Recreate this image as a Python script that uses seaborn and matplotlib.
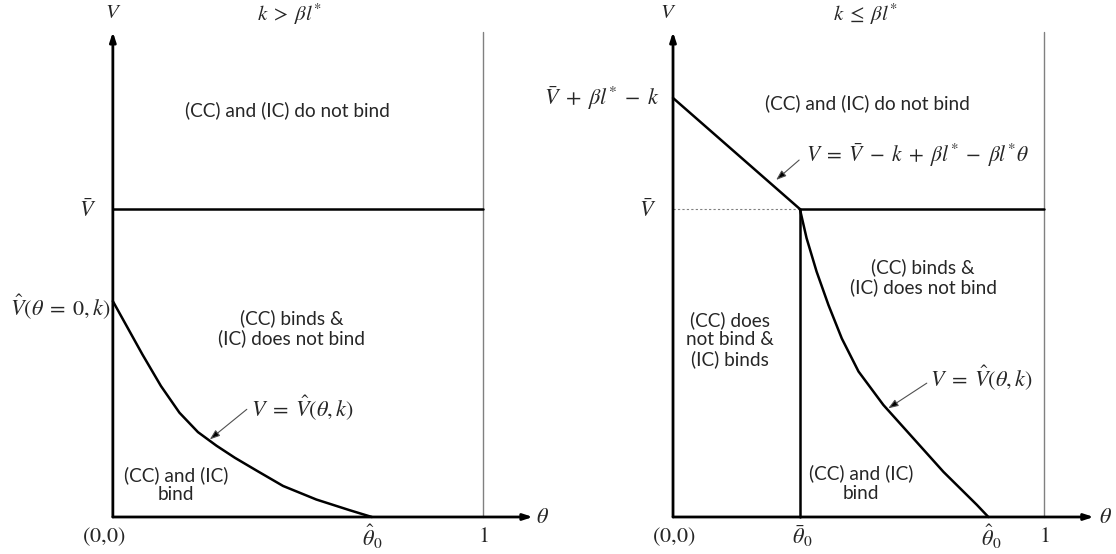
import matplotlib
matplotlib.use("Agg")
import matplotlib.pyplot as plt
import seaborn as sns

sns.set_style("white")
plt.rcParams["font.family"] = ["Lato", "DejaVu Sans"]
plt.rcParams["mathtext.fontset"] = "stix"
plt.rcParams["lines.solid_joinstyle"] = "round"

# ---- values (theta on the horizontal axis, V on the vertical axis) ----
V_BAR = 0.635

# Panel k > beta l*: boundary V = V_hat(theta, k)
left_theta = [0.0, 0.04, 0.08, 0.13, 0.18, 0.23, 0.28, 0.33, 0.39, 0.46, 0.55, 0.64, 0.70]
left_V = [0.445, 0.39, 0.335, 0.27, 0.215, 0.175, 0.147, 0.122, 0.095, 0.064, 0.036, 0.014, 0.0]
left_theta_hat0 = 0.70

# Panel k <= beta l*: straight segment and V_hat boundary
right_line_theta = [0.0, 0.342]
right_line_V = [0.864, V_BAR]
right_theta = [0.342, 0.360, 0.387, 0.419, 0.455, 0.500, 0.567, 0.648, 0.729, 0.819, 0.850]
right_V = [V_BAR, 0.575, 0.506, 0.437, 0.368, 0.300, 0.231, 0.162, 0.093, 0.025, 0.0]
right_theta_bar0 = 0.342
right_theta_hat0 = 0.85

LINE_W = 1.8
TXT = 13.7
MATH = 16
TICK = 16

fig = plt.figure(figsize=(11.16, 5.54), dpi=100)
ax1 = fig.add_axes([0, 0, 0.5, 1])
ax2 = fig.add_axes([0.5, 0, 0.5, 1])
ax1.set_xlim(-0.305, 1.203)
ax2.set_xlim(-0.31, 1.194)
for ax in (ax1, ax2):
    ax.set_ylim(-0.0763, 1.066)
    ax.axis("off")


def draw_axes(ax, x_tip):
    arrow = dict(arrowstyle="-|>,head_length=0.55,head_width=0.18",
                 lw=2.0, color="black", shrinkA=0, shrinkB=0)
    ax.annotate("", xy=(0, 1.0), xytext=(0, 0), arrowprops=arrow)
    ax.annotate("", xy=(x_tip, 0), xytext=(0, 0), arrowprops=arrow)
    ax.plot([1, 1], [0, 1.0], color="#808080", lw=1.0)


def pointer(ax, start, end):
    ax.annotate("", xy=end, xytext=start,
                arrowprops=dict(arrowstyle="-|>,head_length=0.6,head_width=0.22",
                                lw=0.8, color="#505050", fc="black",
                                shrinkA=0, shrinkB=0))


V_HAT_EQ = r"$V\;=\;\hat{V}(\theta,k)$"

# ---------------- left panel ----------------
draw_axes(ax1, 1.135)
ax1.plot([0, 1], [V_BAR, V_BAR], color="black", lw=LINE_W)
sns.lineplot(x=left_theta, y=left_V, ax=ax1, color="black", lw=LINE_W,
             sort=False, estimator=None)

ax1.text(0, 1.041, r"$V$", fontsize=MATH - 1, ha="center", va="center")
ax1.text(0.478, 1.037, r"$k\;>\;\beta l^{*}$", fontsize=MATH - 1, ha="center", va="center")
ax1.text(0.473, 0.839, "(CC) and (IC) do not bind", fontsize=TXT, ha="center", va="center")
ax1.text(-0.045, V_BAR, r"$\bar{V}$", fontsize=MATH, ha="right", va="center")
ax1.text(-0.006, left_V[0] - 0.012, r"$\hat{V}(\theta\;=\;0,k)$", fontsize=MATH,
         ha="right", va="center")
ax1.text(0.484, 0.39, "(CC) binds &\n(IC) does not bind", fontsize=TXT,
         ha="center", va="center", linespacing=1.15)
ax1.text(0.374, 0.225, V_HAT_EQ, fontsize=MATH, ha="left", va="center")
pointer(ax1, (0.362, 0.222), (0.262, 0.160))
ax1.text(0.170, 0.066, "(CC) and (IC)\nbind", fontsize=TXT, ha="center", va="center",
         linespacing=1.15)
ax1.text(-0.024, -0.04, r"$(0{,}0)$", fontsize=TICK, ha="center", va="center")
ax1.text(left_theta_hat0, -0.04, r"$\hat{\theta}_0$", fontsize=TICK, ha="center", va="center")
ax1.text(1.0, -0.04, r"$1$", fontsize=TICK, ha="center", va="center")
ax1.text(1.162, 0.0, r"$\theta$", fontsize=TICK, ha="center", va="center")

# ---------------- right panel ----------------
draw_axes(ax2, 1.134)
ax2.plot([0, right_theta_bar0], [V_BAR, V_BAR], color="#808080", lw=0.8,
         linestyle=(0, (2, 2)))
ax2.plot([right_theta_bar0, 1], [V_BAR, V_BAR], color="black", lw=LINE_W)
ax2.plot([right_theta_bar0, right_theta_bar0], [0, V_BAR], color="black", lw=LINE_W)
sns.lineplot(x=right_line_theta, y=right_line_V, ax=ax2, color="black", lw=LINE_W,
             sort=False, estimator=None)
sns.lineplot(x=right_theta, y=right_V, ax=ax2, color="black", lw=LINE_W,
             sort=False, estimator=None)

ax2.text(-0.013, 1.041, r"$V$", fontsize=MATH - 1, ha="center", va="center")
ax2.text(0.52, 1.037, r"$k\;\leq\;\beta l^{*}$", fontsize=MATH - 1, ha="center", va="center")
ax2.text(0.523, 0.853, "(CC) and (IC) do not bind", fontsize=TXT, ha="center", va="center")
ax2.text(-0.035, right_line_V[0], r"$\bar{V}\;+\;\beta l^{*}\;-\;k$", fontsize=MATH,
         ha="right", va="center")
ax2.text(0.358, 0.746,
         r"$V\;=\;\bar{V}\;-\;k\;+\;\beta l^{*}\;-\;\beta l^{*}\theta$",
         fontsize=MATH - 0.5, ha="left", va="center")
pointer(ax2, (0.340, 0.736), (0.278, 0.695))
ax2.text(-0.046, V_BAR, r"$\bar{V}$", fontsize=MATH, ha="right", va="center")
ax2.text(0.674, 0.495, "(CC) binds &\n(IC) does not bind", fontsize=TXT,
         ha="center", va="center", linespacing=1.15)
ax2.text(0.154, 0.365, "(CC) does\nnot bind &\n(IC) binds", fontsize=TXT,
         ha="center", va="center", linespacing=1.15)
ax2.text(0.693, 0.287, V_HAT_EQ, fontsize=MATH, ha="left", va="center")
pointer(ax2, (0.684, 0.276), (0.580, 0.224))
ax2.text(0.507, 0.07, "(CC) and (IC)\nbind", fontsize=TXT, ha="center", va="center",
         linespacing=1.15)
ax2.text(0.003, -0.04, r"$(0{,}0)$", fontsize=TICK, ha="center", va="center")
ax2.text(right_theta_bar0 + 0.006, -0.04, r"$\bar{\theta}_0$", fontsize=TICK, ha="center", va="center")
ax2.text(right_theta_hat0 + 0.007, -0.04, r"$\hat{\theta}_0$", fontsize=TICK, ha="center", va="center")
ax2.text(1.0, -0.04, r"$1$", fontsize=TICK, ha="center", va="center")
ax2.text(1.167, 0.0, r"$\theta$", fontsize=TICK, ha="center", va="center")

fig.savefig("out.png", dpi=100, facecolor="white")
